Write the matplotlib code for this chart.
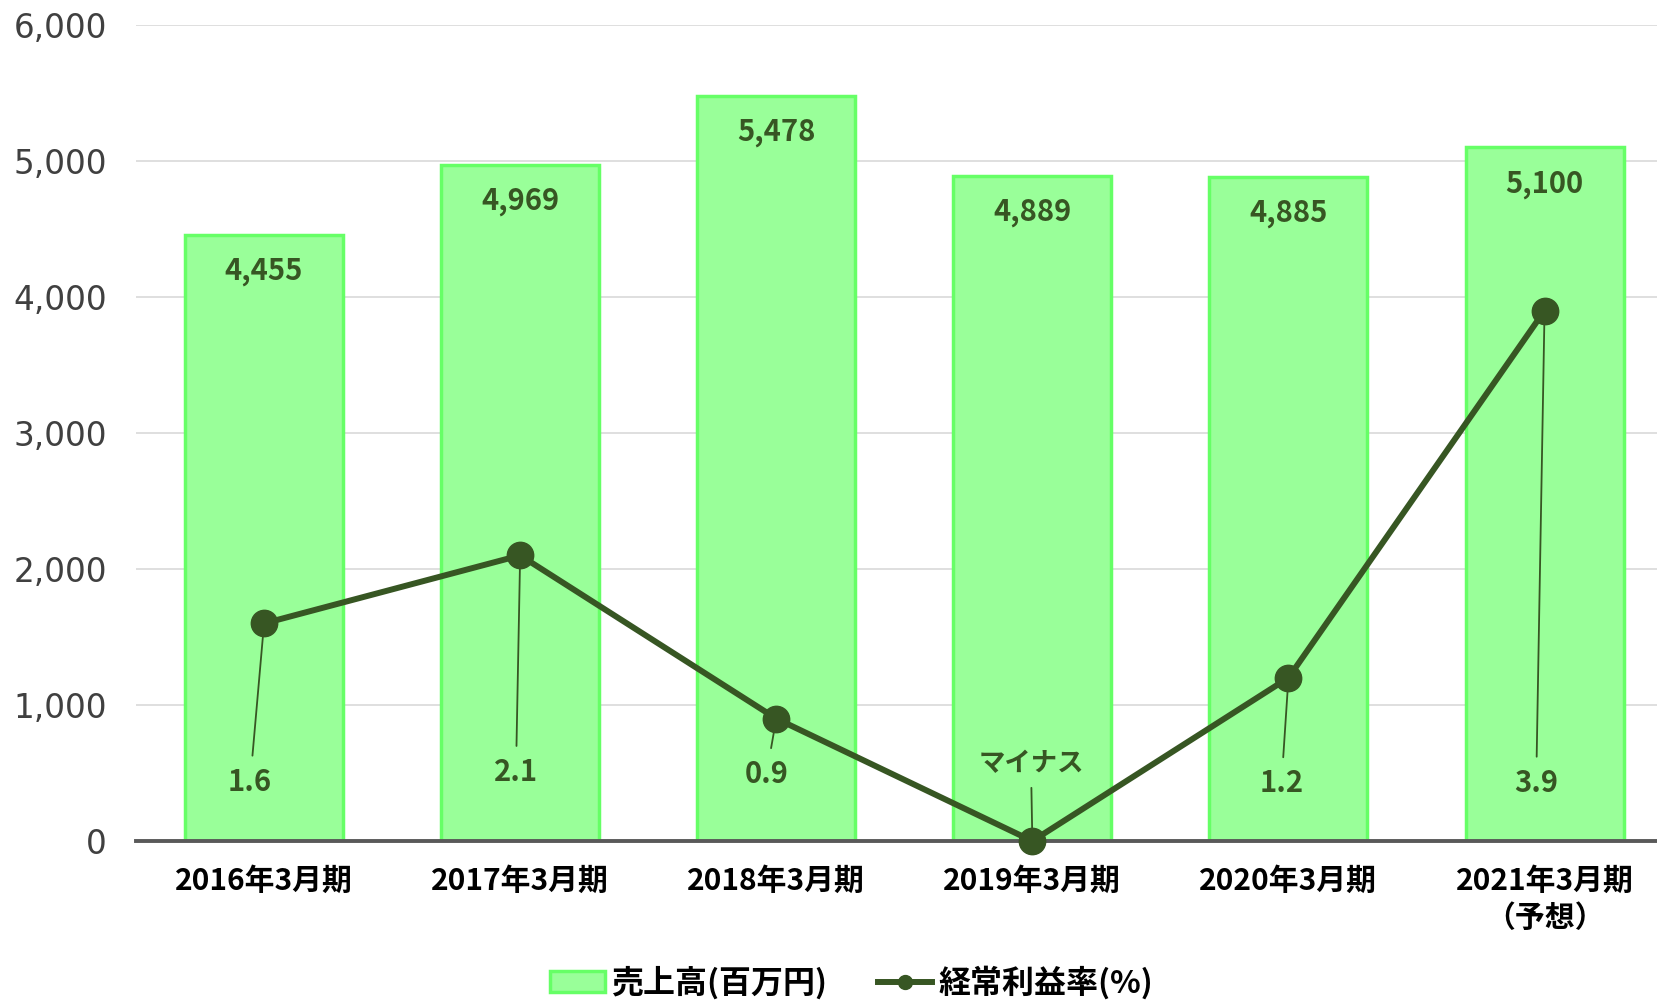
import matplotlib
matplotlib.use("Agg")
import matplotlib.pyplot as plt
from matplotlib.ticker import FuncFormatter
from matplotlib.lines import Line2D
from matplotlib.patches import Patch

categories = ["2016年3月期", "2017年3月期", "2018年3月期", "2019年3月期", "2020年3月期", "2021年3月期\n（予想）"]
sales = [4455, 4969, 5478, 4889, 4885, 5100]
sales_labels = ["4,455", "4,969", "5,478", "4,889", "4,885", "5,100"]
ratio = [1.6, 2.1, 0.9, 0.0, 1.2, 3.9]
ratio_labels = ["1.6", "2.1", "0.9", "マイナス", "1.2", "3.9"]
legend_labels = ["売上高(百万円)", "経常利益率(%)"]

# label offsets (points) relative to each line point
label_offsets = [(-10, -114), (-3, -156), (-7, -40), (-1, 56), (-5, -76), (-6, -340)]

BAR_FACE = "#99FF99"
BAR_EDGE = "#66FF66"
LINE = "#375623"
CJK = ["Noto Sans CJK JP", "DejaVu Sans"]
NUM = ["Noto Sans CJK JP", "DejaVu Sans"]

fig = plt.figure(figsize=(16.58, 10), dpi=100)
ax = fig.add_axes([136/1658, 1-841/1000, 1-136/1658, (841-25)/1000])

x = list(range(len(categories)))
bars = ax.bar(x, sales, width=0.617, color=BAR_FACE, edgecolor=BAR_EDGE, linewidth=2.5, zorder=2)
ax.set_xlim(-0.5, 5.443)
ax.set_ylim(0, 6000)
ax.set_yticks([0, 1000, 2000, 3000, 4000, 5000, 6000])
ax.yaxis.set_major_formatter(FuncFormatter(lambda v, p: f"{int(v):,}"))
ax.grid(axis="y", color="#D9D9D9", linewidth=1.2, zorder=0)
ax.set_axisbelow(True)
for s in ["top", "right", "left"]:
    ax.spines[s].set_visible(False)
ax.spines["bottom"].set_color("#595959")
ax.spines["bottom"].set_linewidth(2.8)
ax.spines["bottom"].set_zorder(3)
ax.tick_params(axis="y", length=0, pad=21, labelsize=23.5, labelcolor="#404040")
ax.tick_params(axis="x", length=0, pad=18)
ax.set_xticks(x)
ax.set_xticklabels(categories, fontfamily=CJK, fontweight="bold", fontsize=21.5, color="black", linespacing=1.3)
for lbl in ax.get_yticklabels():
    lbl.set_fontfamily(["DejaVu Sans"])

for xi, v, t in zip(x, sales, sales_labels):
    ax.annotate(t, (xi, v), xytext=(0, -26), textcoords="offset points",
                ha="center", va="center", fontsize=21, fontweight="bold",
                color=LINE, family=NUM, zorder=5)

ax2 = ax.twinx()
ax2.set_position(ax.get_position())
ax2.set_ylim(0, 6)
ax2.set_xlim(ax.get_xlim())
ax2.axis("off")
ax2.plot(x, ratio, color=LINE, linewidth=4.3, marker="o", markersize=19,
         clip_on=False, zorder=5)

for xi, v, t, (dx, dy) in zip(x, ratio, ratio_labels, label_offsets):
    is_jp = t == "マイナス"
    ax2.annotate(t, (xi, v), xytext=(dx, dy), textcoords="offset points",
                 ha="center", va="center", fontsize=19 if is_jp else 21,
                 fontweight="bold", color=LINE, family=CJK if is_jp else NUM, zorder=4,
                 arrowprops=dict(arrowstyle="-", color=LINE, lw=1.3,
                                 shrinkA=6, shrinkB=0))

handles = [Patch(facecolor=BAR_FACE, edgecolor=BAR_EDGE, linewidth=2.5),
           Line2D([0], [0], color=LINE, linewidth=4.3, marker="o", markersize=10)]
fig.legend(handles, legend_labels, loc="center", bbox_to_anchor=(852/1658, 1-983/1000),
           ncol=2, frameon=False, prop={"family": CJK, "weight": "bold", "size": 23},
           handlelength=1.7, handleheight=0.6, handletextpad=0.2, columnspacing=1.6)

fig.savefig("out.png", dpi=100)
